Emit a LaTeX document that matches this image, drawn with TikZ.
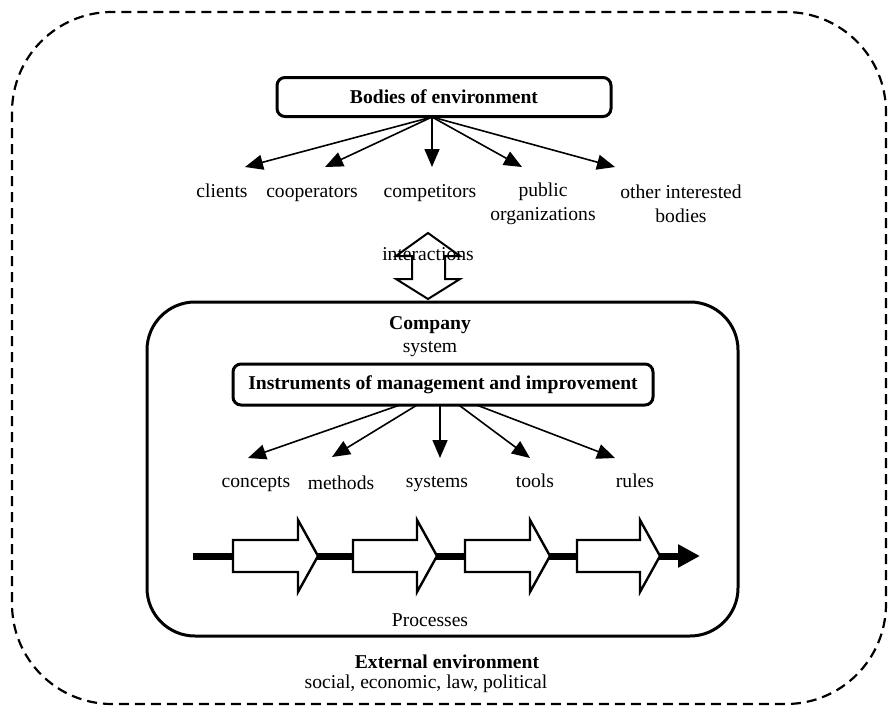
\documentclass[tikz,border=0pt]{standalone}
\usepackage{fontspec}
\setmainfont{Liberation Serif}
\usetikzlibrary{arrows.meta,calc}
\begin{document}
\begin{tikzpicture}[x=1pt,y=-1pt,
  txt/.style={font=\fontsize{19.6pt}{24pt}\selectfont, inner sep=0pt},
  btxt/.style={font=\fontsize{19.6pt}{24pt}\selectfont\bfseries, inner sep=0pt},
  rbox/.style={draw, line width=3pt, rounded corners=8pt, fill=white, btxt},
  arr/.style={line width=1.6pt, -{Triangle[length=18pt,width=15pt]}},
  blockarrow/.style={draw, line width=2.4pt, fill=white, line join=miter},
  outerline/.style={draw, line width=2.2pt, dash pattern=on 10pt off 6pt, rounded corners=100pt},
  chain/.style={line width=7pt, -{Triangle[length=22pt,width=22pt]}}
]
\useasboundingbox (0,0) rectangle (889,710);
\draw[outerline] (12,12) rectangle (886,704);

% top part
\coordinate (hub1) at (432,117);
\coordinate (t1) at (245,167);
\coordinate (t2) at (325,167);
\coordinate (t3) at (432,167);
\coordinate (t4) at (522,167);
\coordinate (t5) at (615,167);
\draw[arr] (hub1) -- (t1);
\draw[arr] (hub1) -- (t2);
\draw[arr] (hub1) -- (t3);
\draw[arr] (hub1) -- (t4);
\draw[arr] (hub1) -- (t5);
\node[rbox, minimum width=334pt, minimum height=39pt] (bodies) at (444,97) {Bodies of environment};

\node[txt, anchor=base] (clients) at (222,197) {clients};
\node[txt, anchor=base] (coop) at (312,197) {cooperators};
\node[txt, anchor=base] (comp) at (430,197) {competitors};
\node[txt, align=center] (public) at (543,204) {public\\organizations};
\node[txt, align=center] (other) at (681,204) {other interested\\bodies};

% interactions double arrow
\draw[line width=2pt, line join=miter] (428,233) -- (460,256) -- (445,256) -- (445,279) -- (460,279)
  -- (428,299) -- (396,279) -- (412,279) -- (412,256) -- (396,256) -- cycle;
\node[txt] (inter) at (428,254) {interactions};

% company
\node[draw, line width=3pt, rounded corners=48pt, minimum width=591pt, minimum height=334pt] (company) at (442.5,469) {};
\node[btxt] (companyT) at (430,325) {Company};
\node[txt] (systemT) at (430,349) {system};

\coordinate (hub2) at (440,391);
\coordinate (s1) at (248,458);
\coordinate (s2) at (332,457);
\coordinate (s3) at (440,458);
\coordinate (s4) at (530,458);
\coordinate (s5) at (615,458);
\draw[arr] (hub2) -- (s1);
\draw[arr] (hub2) -- (s2);
\draw[arr] (hub2) -- (s3);
\draw[arr] (hub2) -- (s4);
\draw[arr] (hub2) -- (s5);
\node[rbox, minimum width=420pt, minimum height=41pt] (instr) at (443,384.5) {Instruments of management and improvement};

\node[txt, anchor=base] (concepts) at (256,487) {concepts};
\node[txt, anchor=base] (methods) at (341,489) {methods};
\node[txt, anchor=base] (systems) at (437,487) {systems};
\node[txt, anchor=base] (tools) at (535,487) {tools};
\node[txt, anchor=base] (rules) at (635,487) {rules};

% process chain
\coordinate (chainS) at (193,556);
\coordinate (chainE) at (700,556);
\draw[chain] (chainS) -- (chainE);
\foreach \xa/\xb/\xc in {233/298/318, 353/417/437, 465/530/550, 577/640/660}{
  \draw[blockarrow] (\xa,540) -- (\xb,540) -- (\xb,520) -- (\xc,556) -- (\xb,592) -- (\xb,572) -- (\xa,572) -- cycle;
}
\node[txt] (proc) at (430,620) {Processes};

\node[btxt] (ext) at (447,662) {External environment};
\node[txt] (extsub) at (426,684) {social, economic, law, political};
\end{tikzpicture}
\end{document}
